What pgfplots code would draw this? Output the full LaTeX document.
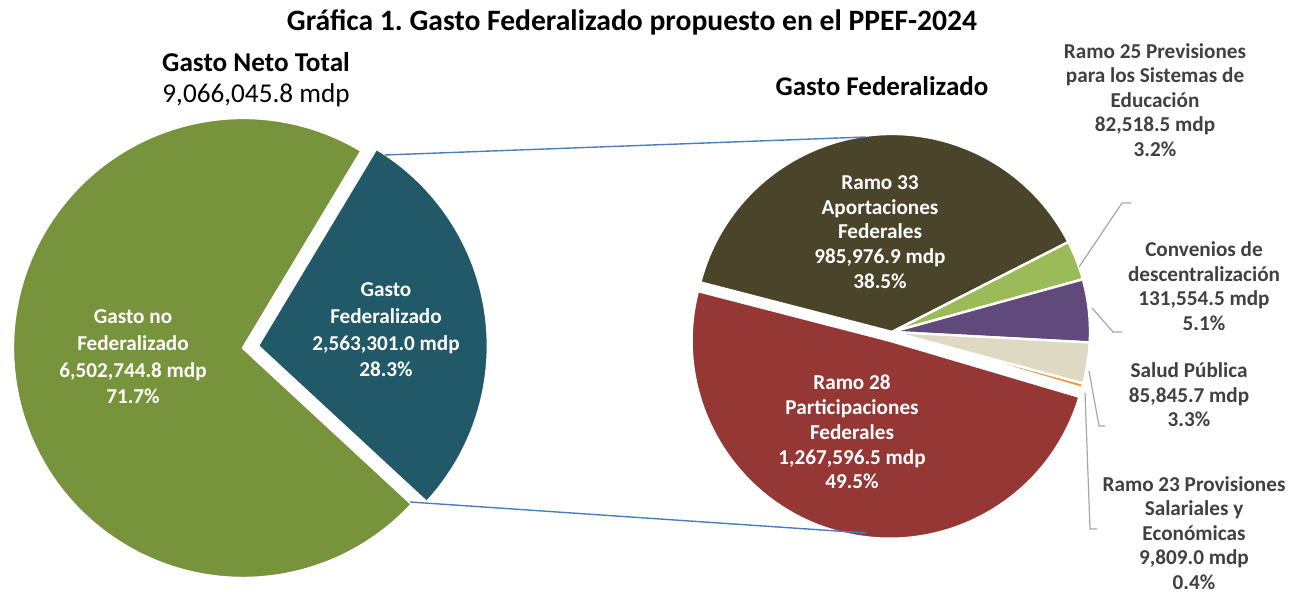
\documentclass[border=0pt]{standalone}
\usepackage{fontspec}
\setmainfont{Carlito}
\usepackage{pgfplots}
\pgfplotsset{compat=1.18}

\definecolor{cNoFed}{HTML}{77933C}
\definecolor{cFed}{HTML}{215968}
\definecolor{cR33}{HTML}{4A452A}
\definecolor{cR25}{HTML}{9BBB59}
\definecolor{cConv}{HTML}{604A7B}
\definecolor{cSalud}{HTML}{DDD9C3}
\definecolor{cR23}{HTML}{F79646}
\definecolor{cR28}{HTML}{953735}
\definecolor{txtgray}{HTML}{404040}
\definecolor{leadgray}{HTML}{A6A6A6}
\definecolor{linkblue}{HTML}{4A7EBB}

\tikzset{
  lbl/.style={font=\bfseries\fontsize{10.6}{12.4}\selectfont, align=center, text=white},
  lblL/.style={font=\bfseries\fontsize{10.6}{13.3}\selectfont, align=center, text=white},
  side/.style={font=\bfseries\fontsize{10.6}{12.3}\selectfont, align=center, text=txtgray},
}

% values in mdp
\def\vNoFed{6502744.8}
\def\vFed{2563301.0}
\def\vRA{985976.9}   % Ramo 33
\def\vRB{82518.5}    % Ramo 25
\def\vRC{131554.5}   % Convenios
\def\vRD{85845.7}    % Salud
\def\vRE{9809.0}     % Ramo 23
\def\vRF{1267596.5}  % Ramo 28

% 1 px of the reference = 0.5pt
\def\u{0.5pt}

% left pie angles
\edef\LA{59}
\edef\LB{\fpeval{round(\LA-360*\vFed/(\vFed+\vNoFed),3)}}
\edef\LC{\fpeval{round(\LA+360*\vNoFed/(\vFed+\vNoFed),3)}}
% right pie angles (clockwise)
\edef\tot{\fpeval{\vRA+\vRB+\vRC+\vRD+\vRE+\vRF}}
\edef\RS{165.5}
\edef\Ra{\fpeval{round(\RS-360*\vRA/\tot,3)}}
\edef\Rb{\fpeval{round(\Ra-360*\vRB/\tot,3)}}
\edef\Rc{\fpeval{round(\Rb-360*\vRC/\tot,3)}}
\edef\Rd{\fpeval{round(\Rc-360*\vRD/\tot,3)}}
\edef\Re{\fpeval{round(\Rd-360*\vRE/\tot,3)}}
\edef\Rf{\fpeval{round(\Re-360*\vRF/\tot,3)}}
\edef\Rdx{\fpeval{round(9*cosd((\Re+\Rf)/2),3)}}
\edef\Rdy{\fpeval{round(9*sind((\Re+\Rf)/2),3)}}
\edef\Ldx{\fpeval{round(15*cosd((\LA+\LB)/2),3)}}
\edef\Ldy{\fpeval{round(15*sind((\LA+\LB)/2),3)}}

% cx, cy, radius(px), start, end, colour
\newcommand{\slice}[6]{%
  \fill[#6, draw=white, line width=1.2pt, line join=round]
    (axis cs:#1,#2) -- ++(#4:#3*\u) arc[start angle=#4, end angle=#5, radius=#3*\u] -- cycle;}

\begin{document}
\frenchspacing
\begin{tikzpicture}
\begin{axis}[
    scale only axis,
    width=646.5pt, height=296pt,
    xmin=0, xmax=1293, ymin=0, ymax=592,
    hide axis, clip=false,
]
% left pie
\slice{243}{244}{230}{\LA}{\LC}{cNoFed}
\slice{243+\Ldx}{244+\Ldy}{230}{\LA}{\LB}{cFed}
% right pie
\slice{892}{260}{198}{\RS}{\Ra}{cR33}
\slice{892}{260}{198}{\Ra}{\Rb}{cR25}
\slice{892}{260}{198}{\Rb}{\Rc}{cConv}
\slice{892}{260}{198}{\Rc}{\Rd}{cSalud}
\slice{892}{260}{198}{\Rd}{\Re}{cR23}
\slice{892+\Rdx}{260+\Rdy}{198}{\Re}{\Rf}{cR28}

% connectors
\draw[linkblue, line width=0.7pt] (axis cs:385,437) -- (axis cs:866,455);
\draw[linkblue, line width=0.7pt] (axis cs:410,90) -- (axis cs:866,59);

% leader lines
\draw[leadgray, line width=0.6pt] (axis cs:1079,325) -- (axis cs:1122,389) -- (axis cs:1131,389);
\draw[leadgray, line width=0.6pt] (axis cs:1092,284) -- (axis cs:1113,260) -- (axis cs:1122,260);
\draw[leadgray, line width=0.6pt] (axis cs:1089,221) -- (axis cs:1099,166) -- (axis cs:1105,166);
\draw[leadgray, line width=0.6pt] (axis cs:1085,199) -- (axis cs:1090,63) -- (axis cs:1097,63);

% titles
\node[font=\bfseries\fontsize{14.8}{16}\selectfont] at (axis cs:632,570) {Gráfica 1. Gasto Federalizado propuesto en el PPEF-2024};
\node[font=\bfseries\fontsize{13.6}{16}\selectfont] at (axis cs:256,530) {Gasto Neto Total};
\node[font=\fontsize{13.6}{16}\selectfont] at (axis cs:256,497) {9,066,045.8 mdp};
\node[font=\bfseries\fontsize{13.5}{16}\selectfont] at (axis cs:882,506) {Gasto Federalizado};

% labels inside
\node[lblL] at (axis cs:133,235) {Gasto no\\Federalizado\\6,502,744.8 mdp\\71.7\%};
\node[lblL] at (axis cs:386,262) {Gasto\\Federalizado\\2,563,301.0 mdp\\28.3\%};
\node[lbl] at (axis cs:880,360) {Ramo 33\\Aportaciones\\Federales\\985,976.9 mdp\\38.5\%};
\node[lbl] at (axis cs:852,160) {Ramo 28\\Participaciones\\Federales\\1,267,596.5 mdp\\49.5\%};

% labels outside
\node[side] at (axis cs:1155,492) {Ramo 25 Previsiones\\para los Sistemas de\\Educación\\82,518.5 mdp\\3.2\%};
\node[side] at (axis cs:1204,306) {Convenios de\\descentralización\\131,554.5 mdp\\5.1\%};
\node[side] at (axis cs:1189,197) {Salud Pública\\85,845.7 mdp\\3.3\%};
\node[side] at (axis cs:1194,59) {Ramo 23 Provisiones\\Salariales y\\Económicas\\9,809.0 mdp\\0.4\%};
\end{axis}
\pgfresetboundingbox
\path (current axis.south west) rectangle (current axis.north east);
\end{tikzpicture}
\end{document}
